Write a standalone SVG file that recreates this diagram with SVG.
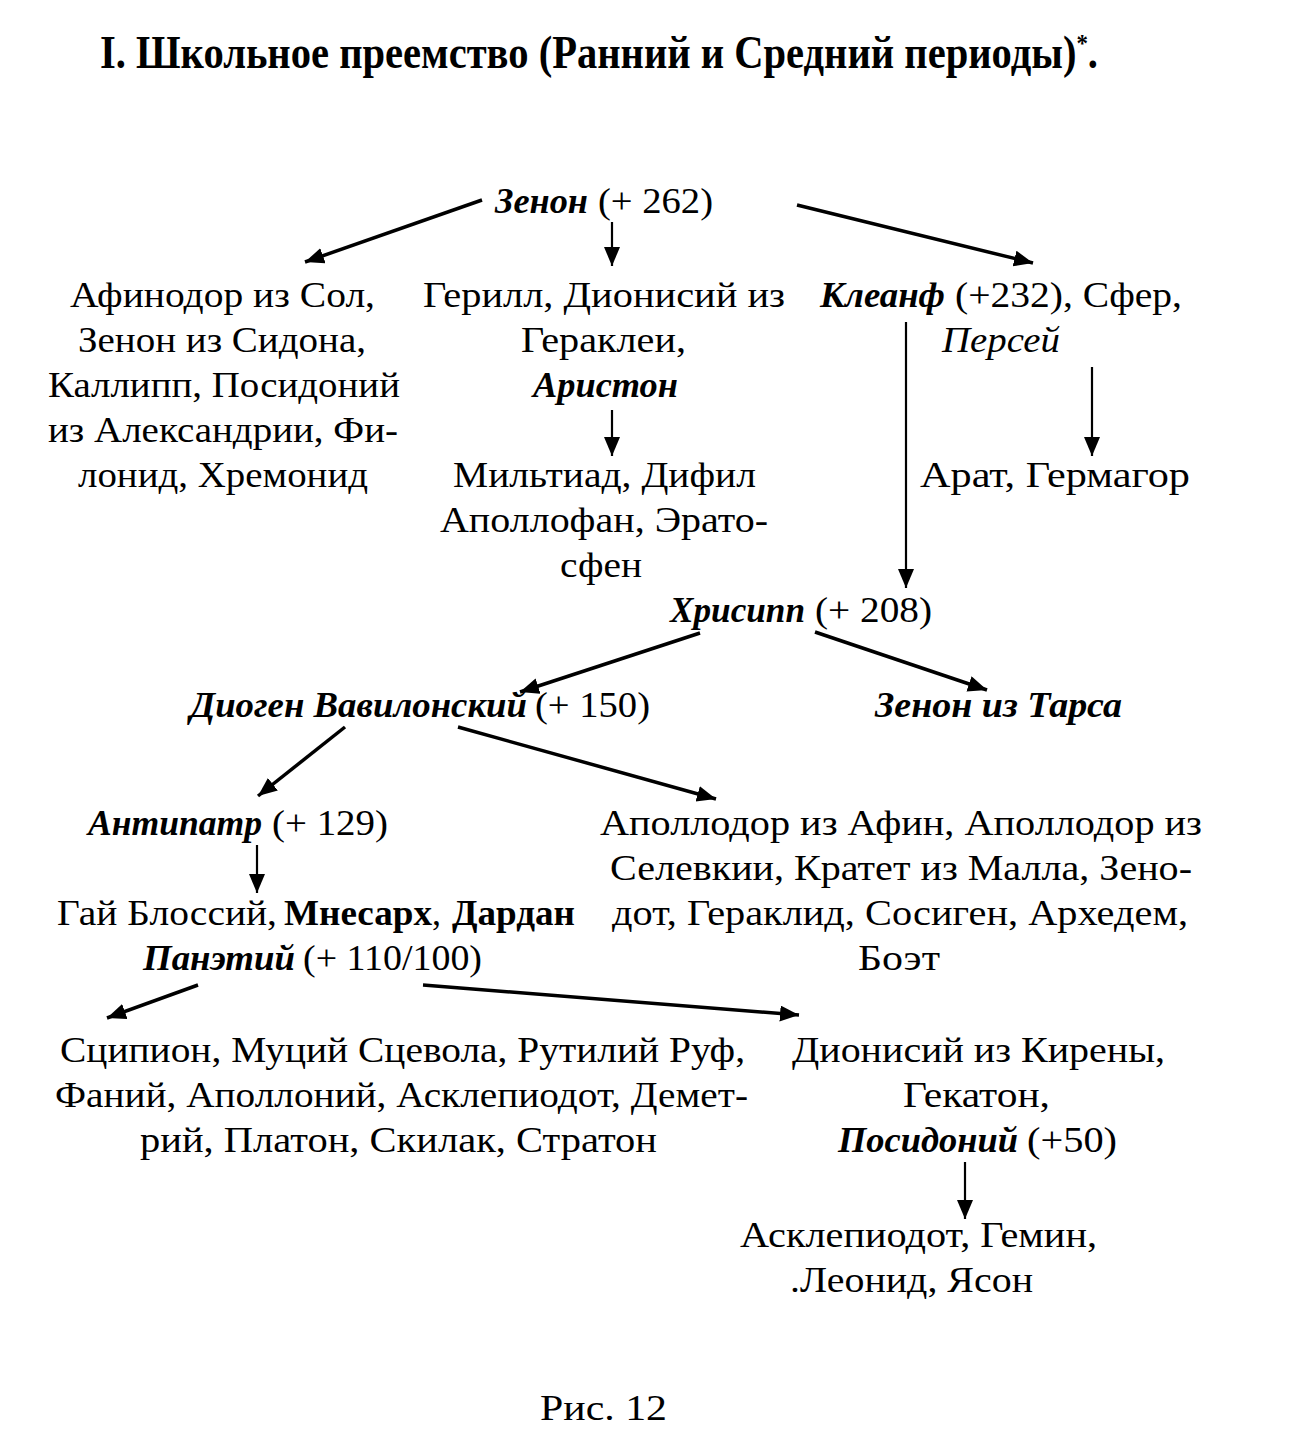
<svg xmlns="http://www.w3.org/2000/svg" width="1290" height="1432" viewBox="0 0 1290 1432">
<style>
text{font-family:"Liberation Serif","Times New Roman",serif;font-size:36px;fill:#000}
.b{font-weight:bold}
.bi{font-weight:bold;font-style:italic}
.i{font-style:italic}
.t{font-weight:bold;font-size:46px}
.c line{stroke:#000;stroke-width:3.5;marker-end:url(#ah)}
.c line.v{stroke-width:2.2}
</style>
<defs>
<marker id="ah" markerUnits="userSpaceOnUse" markerWidth="22" markerHeight="18" refX="19" refY="8" orient="auto">
<path d="M0,0 L19,8 L0,16 Z" fill="#000"/>
</marker>
</defs>
<rect width="1290" height="1432" fill="#fff"/>
<g id="title">
<text class="t" x="100" y="68" textLength="998" lengthAdjust="spacingAndGlyphs">I. Школьное преемство (Ранний и Средний периоды)<tspan font-size="26" dy="-16">*</tspan><tspan dy="16">.</tspan></text>
</g>

<g class="c" id="connectors">
<line x1="482" y1="200" x2="305" y2="262"/>
<line class="v" x1="612" y1="222" x2="612" y2="266"/>
<line x1="797" y1="205" x2="1033" y2="263"/>
<line class="v" x1="612" y1="410" x2="612" y2="456"/>
<line class="v" x1="906" y1="322" x2="906" y2="588"/>
<line class="v" x1="1092" y1="367" x2="1092" y2="456"/>
<line x1="700" y1="633" x2="520" y2="692"/>
<line x1="815" y1="632" x2="987" y2="690"/>
<line x1="345" y1="727" x2="258" y2="796"/>
<line x1="458" y1="727" x2="716" y2="799"/>
<line class="v" x1="257" y1="845" x2="257" y2="893"/>
<line x1="198" y1="985" x2="107" y2="1018"/>
<line x1="423" y1="985" x2="799" y2="1015"/>
<line class="v" x1="965" y1="1162" x2="965" y2="1219"/>
</g>

<g id="zenon">
<text class="bi" x="495" y="213" textLength="93" lengthAdjust="spacingAndGlyphs">Зенон</text>
<text x="598" y="213" textLength="115" lengthAdjust="spacingAndGlyphs">(+ 262)</text>
</g>

<g id="athenodor">
<text x="70" y="307" textLength="305" lengthAdjust="spacingAndGlyphs">Афинодор из Сол,</text>
<text x="78" y="352" textLength="288" lengthAdjust="spacingAndGlyphs">Зенон из Сидона,</text>
<text x="48" y="397" textLength="352" lengthAdjust="spacingAndGlyphs">Каллипп, Посидоний</text>
<text x="48" y="442" textLength="350" lengthAdjust="spacingAndGlyphs">из Александрии, Фи-</text>
<text x="78" y="487" textLength="290" lengthAdjust="spacingAndGlyphs">лонид, Хремонид</text>
</g>

<g id="herillus">
<text x="423" y="307" textLength="362" lengthAdjust="spacingAndGlyphs">Герилл,  Дионисий из</text>
<text x="521" y="352" textLength="165" lengthAdjust="spacingAndGlyphs">Гераклеи,</text>
<text class="bi" x="533" y="397" textLength="145" lengthAdjust="spacingAndGlyphs">Аристон</text>
</g>

<g id="miltiades">
<text x="453" y="487" textLength="303" lengthAdjust="spacingAndGlyphs">Мильтиад, Дифил</text>
<text x="440" y="532" textLength="328" lengthAdjust="spacingAndGlyphs">Аполлофан, Эрато-</text>
<text x="560" y="577" textLength="82" lengthAdjust="spacingAndGlyphs">сфен</text>
</g>

<g id="cleanthes">
<text class="bi" x="820" y="307" textLength="125" lengthAdjust="spacingAndGlyphs">Клеанф</text>
<text x="955" y="307" textLength="227" lengthAdjust="spacingAndGlyphs">(+232), Сфер,</text>
<text class="i" x="942" y="352" textLength="118" lengthAdjust="spacingAndGlyphs">Персей</text>
</g>

<g id="aratus">
<text x="920" y="487" textLength="270" lengthAdjust="spacingAndGlyphs">Арат, Гермагор</text>
</g>

<g id="chrysippus">
<text class="bi" x="670" y="622" textLength="135" lengthAdjust="spacingAndGlyphs">Хрисипп</text>
<text x="815" y="622" textLength="117" lengthAdjust="spacingAndGlyphs">(+ 208)</text>
</g>

<g id="diogenes">
<text class="bi" x="190" y="717" textLength="337" lengthAdjust="spacingAndGlyphs">Диоген Вавилонский</text>
<text x="535" y="717" textLength="115" lengthAdjust="spacingAndGlyphs">(+ 150)</text>
</g>

<g id="zenon-tarsus">
<text class="bi" x="875" y="717" textLength="247" lengthAdjust="spacingAndGlyphs">Зенон из Тарса</text>
</g>

<g id="antipater">
<text class="bi" x="88" y="835" textLength="174" lengthAdjust="spacingAndGlyphs">Антипатр</text>
<text x="272" y="835" textLength="116" lengthAdjust="spacingAndGlyphs">(+ 129)</text>
</g>

<g id="apollodorus">
<text x="600" y="835" textLength="602" lengthAdjust="spacingAndGlyphs">Аполлодор из Афин, Аполлодор из</text>
<text x="610" y="880" textLength="582" lengthAdjust="spacingAndGlyphs">Селевкии, Кратет из Малла, Зено-</text>
<text x="612" y="925" textLength="576" lengthAdjust="spacingAndGlyphs">дот, Гераклид, Сосиген, Архедем,</text>
<text x="858" y="970" textLength="82" lengthAdjust="spacingAndGlyphs">Боэт</text>
</g>

<g id="blossius">
<text x="57" y="925" textLength="220" lengthAdjust="spacingAndGlyphs">Гай Блоссий,</text>
<text class="b" x="284" y="925" textLength="148" lengthAdjust="spacingAndGlyphs">Мнесарх</text>
<text x="432" y="925">,</text>
<text class="b" x="452" y="925" textLength="123" lengthAdjust="spacingAndGlyphs">Дардан</text>
</g>

<g id="panaetius">
<text class="bi" x="143" y="970" textLength="152" lengthAdjust="spacingAndGlyphs">Панэтий</text>
<text x="303" y="970" textLength="179" lengthAdjust="spacingAndGlyphs">(+ 110/100)</text>
</g>

<g id="scipio">
<text x="60" y="1062" textLength="685" lengthAdjust="spacingAndGlyphs">Сципион, Муций Сцевола, Рутилий Руф,</text>
<text x="55" y="1107" textLength="693" lengthAdjust="spacingAndGlyphs">Фаний, Аполлоний, Асклепиодот, Демет-</text>
<text x="140" y="1152" textLength="517" lengthAdjust="spacingAndGlyphs">рий, Платон, Скилак, Стратон</text>
</g>

<g id="dionysius">
<text x="792" y="1062" textLength="373" lengthAdjust="spacingAndGlyphs">Дионисий из Кирены,</text>
<text x="903" y="1107" textLength="147" lengthAdjust="spacingAndGlyphs">Гекатон,</text>
<text class="bi" x="838" y="1152" textLength="180" lengthAdjust="spacingAndGlyphs">Посидоний</text>
<text x="1027" y="1152" textLength="90" lengthAdjust="spacingAndGlyphs">(+50)</text>
</g>

<g id="asclepiodotus">
<text x="740" y="1247" textLength="357" lengthAdjust="spacingAndGlyphs">Асклепиодот, Гемин,</text>
<text x="790" y="1292" textLength="243" lengthAdjust="spacingAndGlyphs">.Леонид, Ясон</text>
</g>

<text x="540" y="1420" textLength="127" lengthAdjust="spacingAndGlyphs">Рис. 12</text>
</svg>
